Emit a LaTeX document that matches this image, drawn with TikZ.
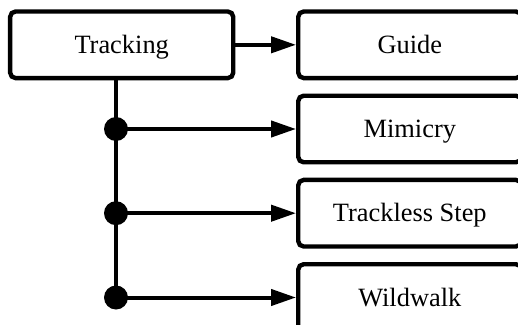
\documentclass[tikz,border=0pt]{standalone}
\usepackage{fontspec}
\setmainfont{Liberation Serif}
\usetikzlibrary{arrows.meta}

\begin{document}
\begin{tikzpicture}[x=0.75pt,y=0.75pt,yscale=-1,xscale=1,
  box/.style={draw,line width=3.3pt,rounded corners=4pt,minimum width=167.3pt,minimum height=49.9pt,inner sep=0pt,
    font=\fontsize{19.8}{24}\selectfont,text height=13.1pt,text depth=0pt},
  dot/.style={circle,fill,inner sep=0pt,minimum size=18pt},
  link/.style={line width=3pt},
  arrow/.style={link,-{Triangle[length=18.75pt,width=12pt]}}]
%set diagram to 518 x 325
\clip (0,0) rectangle (518,325);

%Shape: Rectangles
\node[box] (tracking) at (121.7,44.8) {Tracking};
\node[box] (guide) at (409.8,44.8) {Guide};
\node[box] (mimicry) at (409.8,129) {Mimicry};
\node[box] (trackless) at (409.8,213.2) {Trackless Step};
\node[box] (wildwalk) at (409.8,297.5) {Wildwalk};

%Shape: Junction dots
\node[dot] (jmimicry) at (116,129) {};
\node[dot] (jtrackless) at (116,213.2) {};
\node[dot] (jwildwalk) at (116,297.5) {};

%Straight Lines
\draw[link] (tracking.south -| jmimicry) -- (jwildwalk.center);
\draw[arrow] (tracking.east) -- (guide.west);
\draw[arrow] (jmimicry.center) -- (mimicry.west);
\draw[arrow] (jtrackless.center) -- (trackless.west);
\draw[arrow] (jwildwalk.center) -- (wildwalk.west);

\end{tikzpicture}
\end{document}
